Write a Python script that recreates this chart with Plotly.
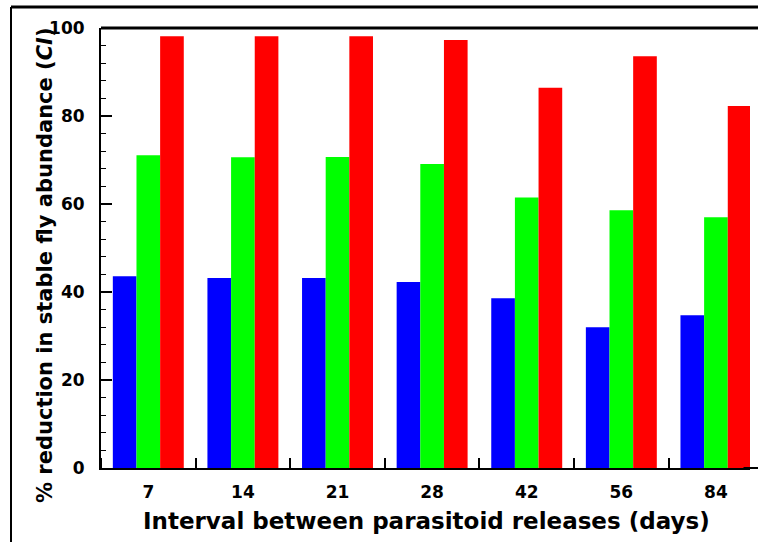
import plotly.graph_objects as go

categories = ["7", "14", "21", "28", "42", "56", "84"]
series_blue = [43.6, 43.2, 43.2, 42.3, 38.6, 32.0, 34.7]
series_green = [71.1, 70.6, 70.7, 69.1, 61.5, 58.6, 57.0]
series_red = [98.1, 98.1, 98.1, 97.3, 86.4, 93.6, 82.3]
y_ticks = [0, 20, 40, 60, 80, 100]

W, H = 758, 542
L, T, B, R = 101, 28, 74, 8
pw, ph = W - L - R, H - T - B

def px_x(x):
    return (x - L) / pw

def px_y(y):
    return (H - B - y) / ph

xpos = list(range(len(categories)))

fig = go.Figure()
for vals, col in [(series_blue, "#0000FF"), (series_green, "#00FF00"), (series_red, "#FF0000")]:
    fig.add_trace(go.Bar(x=xpos, y=vals, marker=dict(color=col, line=dict(width=0)),
                         showlegend=False))

FAM = "DejaVu Sans, sans-serif"
font = dict(family=FAM, color="black")

fig.update_layout(
    width=W, height=H,
    margin=dict(l=L, r=R, t=T, b=B, pad=0),
    paper_bgcolor="white", plot_bgcolor="white",
    barmode="group", bargap=0.25, bargroupgap=0,
    font=dict(**font, size=18),
    xaxis=dict(
        range=[-0.5, 6.36],
        tickvals=xpos, ticktext=categories, ticks="",
        showline=True, linecolor="black", linewidth=2,
        minor=dict(tick0=0.5, dtick=1, ticks="inside", ticklen=10, tickwidth=1.5,
                   tickcolor="black", showgrid=False),
        tickfont=dict(**font, size=17, weight="bold"),
        ticklabelstandoff=8,
        showgrid=False, zeroline=False,
    ),
    yaxis=dict(
        range=[0, 100], tickvals=y_ticks,
        showline=True, linecolor="black", linewidth=2,
        ticks="inside", ticklen=11, tickwidth=1.5, tickcolor="black",
        minor=dict(dtick=4, ticks="inside", ticklen=5, tickwidth=1, tickcolor="black", showgrid=False),
        tickfont=dict(**font, size=17, weight="bold"),
        ticklabelstandoff=11,
        showgrid=False, zeroline=False,
    ),
    annotations=[
        dict(text="<b>Interval between parasitoid releases (days)</b>", xref="paper", yref="paper",
             x=px_x(426), y=px_y(521), xanchor="center", yanchor="middle", showarrow=False,
             font=dict(**font, size=23)),
        dict(text="<b>% reduction in stable fly abundance (<i>CI</i>)</b>", xref="paper", yref="paper",
             x=px_x(45), y=px_y(265), xanchor="center", yanchor="middle", showarrow=False,
             textangle=-90, font=dict(**font, size=21)),
    ],
    shapes=[
        dict(type="line", xref="paper", yref="paper", x0=0, x1=1.05, y0=1, y1=1,
             line=dict(color="black", width=3)),
        dict(type="line", xref="paper", yref="paper", x0=0.99, x1=1.05, y0=0, y1=0,
             line=dict(color="black", width=2)),
        dict(type="line", xref="paper", yref="paper", x0=px_x(11), x1=1.05, y0=px_y(7), y1=px_y(7),
             line=dict(color="black", width=3)),
        dict(type="line", xref="paper", yref="paper", x0=px_x(11), x1=px_x(11), y0=px_y(7), y1=px_y(560),
             line=dict(color="black", width=2)),
    ],
)

fig.write_html("out.html")
